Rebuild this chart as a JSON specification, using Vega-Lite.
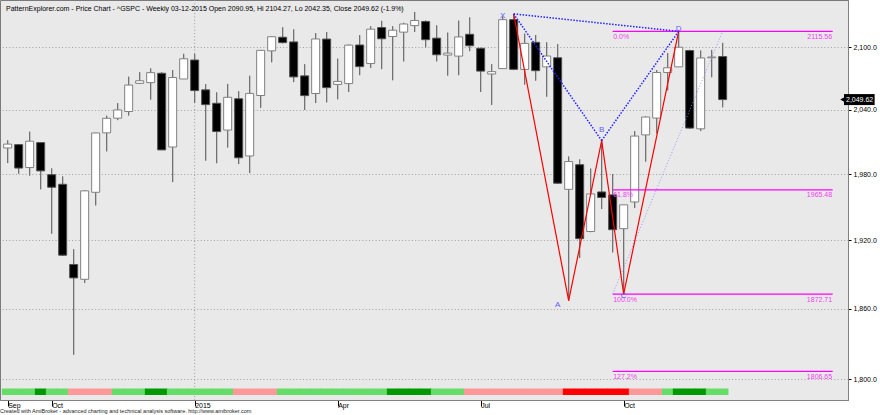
{
"$schema":"https://vega.github.io/schema/vega-lite/v6.json",
"width":848,"height":400,
"autosize":{"type":"none"},
"padding":{"left":0,"top":0,"right":32,"bottom":15},
"background":"#ffffff",
"config":{"font":"Liberation Sans","view":{"fill":"#e9e9e9","stroke":"#7a7a7a","strokeWidth":1}},
"title":{"text":"Created with AmiBroker - advanced charting and technical analysis software. http://www.amibroker.com","orient":"bottom","anchor":"start","frame":"group","fontSize":5.5,"fontWeight":"normal","color":"#222222","offset":0},
"datasets":{
"weekly":[
{"date":"2014-09-05","open":2004.1,"high":2011.2,"low":1990.1,"close":2007.7,"trend":"up"},
{"date":"2014-09-12","open":2007.2,"high":2007.5,"low":1980.3,"close":1985.5,"trend":"up"},
{"date":"2014-09-19","open":1986.0,"high":2019.3,"low":1978.5,"close":2010.4,"trend":"up"},
{"date":"2014-09-26","open":2009.1,"high":2009.1,"low":1966.0,"close":1982.9,"trend":"strong up"},
{"date":"2014-10-03","open":1979.4,"high":1985.2,"low":1926.0,"close":1967.9,"trend":"up"},
{"date":"2014-10-10","open":1970.6,"high":1977.8,"low":1906.1,"close":1906.8,"trend":"up"},
{"date":"2014-10-17","open":1898.6,"high":1912.1,"low":1820.7,"close":1886.8,"trend":"down"},
{"date":"2014-10-24","open":1885.6,"high":1965.3,"low":1882.4,"close":1964.6,"trend":"down"},
{"date":"2014-10-31","open":1963.3,"high":2018.2,"low":1951.4,"close":2018.1,"trend":"down"},
{"date":"2014-11-07","open":2018.2,"high":2034.3,"low":2001.0,"close":2031.9,"trend":"down"},
{"date":"2014-11-14","open":2032.0,"high":2046.2,"low":2030.2,"close":2039.8,"trend":"up"},
{"date":"2014-11-21","open":2038.3,"high":2071.5,"low":2034.5,"close":2063.5,"trend":"up"},
{"date":"2014-11-28","open":2065.1,"high":2075.8,"low":2064.8,"close":2067.6,"trend":"up"},
{"date":"2014-12-05","open":2065.8,"high":2079.5,"low":2049.6,"close":2075.4,"trend":"strong up"},
{"date":"2014-12-12","open":2074.8,"high":2075.8,"low":2002.3,"close":2002.3,"trend":"strong up"},
{"date":"2014-12-19","open":2005.0,"high":2077.9,"low":1972.6,"close":2070.7,"trend":"up"},
{"date":"2014-12-26","open":2069.3,"high":2093.6,"low":2069.3,"close":2088.8,"trend":"up"},
{"date":"2015-01-02","open":2087.6,"high":2093.6,"low":2046.5,"close":2058.2,"trend":"up"},
{"date":"2015-01-09","open":2058.9,"high":2064.4,"low":1992.4,"close":2044.8,"trend":"up"},
{"date":"2015-01-16","open":2046.1,"high":2056.5,"low":1990.0,"close":2019.4,"trend":"up"},
{"date":"2015-01-23","open":2020.8,"high":2064.6,"low":2004.5,"close":2051.8,"trend":"up"},
{"date":"2015-01-30","open":2050.4,"high":2057.6,"low":1989.2,"close":1995.0,"trend":"down"},
{"date":"2015-02-06","open":1996.7,"high":2072.4,"low":1980.9,"close":2055.5,"trend":"down"},
{"date":"2015-02-13","open":2053.5,"high":2097.0,"low":2041.9,"close":2097.0,"trend":"down"},
{"date":"2015-02-20","open":2096.5,"high":2110.6,"low":2085.4,"close":2110.3,"trend":"down"},
{"date":"2015-02-27","open":2109.8,"high":2119.6,"low":2103.8,"close":2104.5,"trend":"up"},
{"date":"2015-03-06","open":2105.2,"high":2117.5,"low":2066.3,"close":2071.3,"trend":"up"},
{"date":"2015-03-13","open":2072.3,"high":2083.5,"low":2039.7,"close":2053.4,"trend":"up"},
{"date":"2015-03-20","open":2055.4,"high":2113.9,"low":2046.3,"close":2108.1,"trend":"up"},
{"date":"2015-03-27","open":2108.0,"high":2114.9,"low":2047.0,"close":2061.0,"trend":"up"},
{"date":"2015-04-03","open":2064.1,"high":2088.9,"low":2049.9,"close":2067.0,"trend":"up"},
{"date":"2015-04-10","open":2064.9,"high":2102.6,"low":2056.8,"close":2102.1,"trend":"up"},
{"date":"2015-04-17","open":2102.2,"high":2111.9,"low":2073.0,"close":2081.2,"trend":"up"},
{"date":"2015-04-24","open":2084.2,"high":2120.5,"low":2080.0,"close":2117.7,"trend":"up"},
{"date":"2015-05-01","open":2119.3,"high":2125.9,"low":2078.8,"close":2108.3,"trend":"up"},
{"date":"2015-05-08","open":2110.5,"high":2120.6,"low":2068.1,"close":2116.7,"trend":"strong up"},
{"date":"2015-05-15","open":2114.8,"high":2123.9,"low":2086.3,"close":2122.8,"trend":"strong up"},
{"date":"2015-05-22","open":2121.2,"high":2134.7,"low":2115.0,"close":2126.3,"trend":"strong up"},
{"date":"2015-05-29","open":2125.3,"high":2126.2,"low":2100.0,"close":2107.4,"trend":"strong up"},
{"date":"2015-06-05","open":2108.9,"high":2121.5,"low":2086.3,"close":2092.7,"trend":"up"},
{"date":"2015-06-12","open":2092.4,"high":2114.3,"low":2072.6,"close":2094.3,"trend":"up"},
{"date":"2015-06-19","open":2091.4,"high":2126.1,"low":2073.0,"close":2110.1,"trend":"up"},
{"date":"2015-06-26","open":2112.7,"high":2129.3,"low":2096.2,"close":2101.5,"trend":"down"},
{"date":"2015-07-03","open":2099.0,"high":2099.5,"low":2056.8,"close":2076.9,"trend":"down"},
{"date":"2015-07-10","open":2074.1,"high":2083.7,"low":2044.6,"close":2076.4,"trend":"down"},
{"date":"2015-07-17","open":2079.3,"high":2130.2,"low":2079.3,"close":2127.1,"trend":"down"},
{"date":"2015-07-24","open":2127.1,"high":2132.8,"low":2077.9,"close":2078.6,"trend":"down"},
{"date":"2015-07-31","open":2078.5,"high":2113.3,"low":2063.9,"close":2103.8,"trend":"down"},
{"date":"2015-08-07","open":2104.8,"high":2112.0,"low":2067.7,"close":2077.3,"trend":"down"},
{"date":"2015-08-14","open":2081.0,"high":2104.8,"low":2052.4,"close":2091.5,"trend":"down"},
{"date":"2015-08-21","open":2089.8,"high":2103.0,"low":1970.9,"close":1971.6,"trend":"down"},
{"date":"2015-08-28","open":1966.0,"high":1996.2,"low":1867.0,"close":1991.5,"trend":"strong down"},
{"date":"2015-09-04","open":1988.6,"high":1993.5,"low":1904.3,"close":1921.5,"trend":"strong down"},
{"date":"2015-09-11","open":1927.9,"high":1985.0,"low":1927.3,"close":1961.8,"trend":"strong down"},
{"date":"2015-09-18","open":1963.6,"high":2011.0,"low":1948.1,"close":1958.6,"trend":"strong down"},
{"date":"2015-09-25","open":1960.9,"high":1980.0,"low":1909.3,"close":1929.5,"trend":"strong down"},
{"date":"2015-10-02","open":1930.4,"high":1951.9,"low":1872.7,"close":1951.9,"trend":"strong down"},
{"date":"2015-10-09","open":1954.5,"high":2019.9,"low":1949.0,"close":2015.2,"trend":"down"},
{"date":"2015-10-16","open":2016.3,"high":2033.6,"low":1991.5,"close":2033.1,"trend":"down"},
{"date":"2015-10-23","open":2032.1,"high":2077.9,"low":2017.7,"close":2075.5,"trend":"down"},
{"date":"2015-10-30","open":2075.5,"high":2094.3,"low":2058.4,"close":2080.1,"trend":"up"},
{"date":"2015-11-06","open":2081.0,"high":2115.56,"low":2080.8,"close":2100.0,"trend":"strong up"},
{"date":"2015-11-13","open":2096.8,"high":2097.5,"low":2022.0,"close":2022.7,"trend":"strong up"},
{"date":"2015-11-20","open":2022.0,"high":2096.8,"low":2019.9,"close":2089.6,"trend":"strong up"},
{"date":"2015-11-27","open":2089.8,"high":2097.4,"low":2071.0,"close":2090.5,"trend":"up"},
{"date":"2015-12-04","open":2090.95,"high":2104.27,"low":2042.35,"close":2049.62,"trend":"up"}
],
"fib":[
{"level":"0.0%","price":2115.56,"start":"2015-09-25","end":"2016-02-12"},
{"level":"61.8%","price":1965.48,"start":"2015-09-25","end":"2016-02-12"},
{"level":"100.0%","price":1872.71,"start":"2015-09-25","end":"2016-02-12"},
{"level":"127.2%","price":1806.65,"start":"2015-09-25","end":"2016-02-12"}
],
"pivots":[
{"point":"X","seq":1,"date":"2015-07-24","price":2132.8},
{"point":"A","seq":2,"date":"2015-08-28","price":1867.0},
{"point":"B","seq":3,"date":"2015-09-18","price":2011.0},
{"point":"C","seq":4,"date":"2015-10-02","price":1872.71},
{"point":"D","seq":5,"date":"2015-11-06","price":2115.56}
],
"legs":[
{"from":"X","to":"B","d1":"2015-07-24","p1":2132.8,"d2":"2015-09-18","p2":2011.0},
{"from":"B","to":"D","d1":"2015-09-18","p1":2011.0,"d2":"2015-11-06","p2":2115.56},
{"from":"X","to":"D","d1":"2015-07-24","p1":2132.8,"d2":"2015-11-06","p2":2115.56}
],
"pivotLabels":[
{"text":"X","date":"2015-07-17","price":2131.0},
{"text":"A","date":"2015-08-21","price":1863.5},
{"text":"B","date":"2015-09-18","price":2021.3},
{"text":"C","date":"2015-10-02","price":1870.8},
{"text":"D","date":"2015-11-06","price":2117.5}
]
},
"layer":[
{"data":{"name":"weekly"},"mark":{"type":"rule","color":"#707070","strokeWidth":1},
 "encoding":{"x":{"field":"date","type":"temporal","scale":{"type":"utc","domain":[{"year":2014,"month":9,"date":3,"hours":7,"minutes":15,"utc":true},{"year":2016,"month":2,"date":18,"hours":14,"utc":true}]},
   "axis":{"values":[{"year":2014,"month":9,"date":5,"utc":true},{"year":2014,"month":10,"date":3,"utc":true},{"year":2015,"month":1,"date":2,"utc":true},{"year":2015,"month":4,"date":3,"utc":true},{"year":2015,"month":7,"date":3,"utc":true},{"year":2015,"month":10,"date":2,"utc":true}],
   "labelExpr":"utcmonth(datum.value) == 0 ? utcFormat(datum.value, '%Y') : utcFormat(datum.value, '%b')",
   "title":null,"grid":false,"tickSize":6,"tickColor":"#000000","domainColor":"#808080","labelAlign":"left","labelBaseline":"top","labelPadding":-4.5,"labelFontSize":7,"labelColor":"#000000","labelDx":1,"labelFlush":false,"labelOverlap":false,"labelBound":false}},
  "y":{"field":"low","type":"quantitative","scale":{"type":"log","domain":[1787,2141.6],"nice":false,"zero":false},
   "axis":{"orient":"right","values":[1800,1860,1920,1980,2040,2100],"format":",.1f","title":null,"grid":true,"gridColor":"#a0a0a0","gridDash":[1,2.3],"tickColor":"#000000","tickSize":3,"domainColor":"#808080","labelFontSize":7,"labelPadding":2,"labelColor":"#000000"}},
  "y2":{"field":"high"}}},
{"data":{"values":[{}]},"mark":{"type":"rule","color":"#9a9a9a","strokeDash":[1,2.3],"strokeWidth":1},
 "encoding":{"x":{"datum":{"year":2015,"month":1,"date":2,"utc":true},"type":"temporal"}}},
{"data":{"name":"weekly"},"mark":{"type":"bar","size":11.6,"clip":true},
 "encoding":{"x":{"field":"date","type":"temporal"},
  "y":{"datum":1792.4,"type":"quantitative"},
  "y2":{"datum":1787},
  "color":{"field":"trend","type":"nominal","scale":{"domain":["up","strong up","down","strong down"],"range":["#66dd66","#009900","#ff9999","#ff0000"]},"legend":null}}},
{"data":{"name":"weekly"},"mark":{"type":"rule","color":"#707070","strokeWidth":1},
 "encoding":{"x":{"field":"date","type":"temporal"},
  "y":{"field":"low","type":"quantitative"},
  "y2":{"field":"high"}}},
{"data":{"name":"weekly"},"mark":{"type":"bar","size":8,"clip":true,"strokeWidth":1},
 "encoding":{"x":{"field":"date","type":"temporal"},
  "y":{"field":"open","type":"quantitative"},
  "y2":{"field":"close"},
  "fill":{"condition":{"test":"datum.close >= datum.open","value":"#ffffff"},"value":"#000000"},
  "stroke":{"condition":{"test":"datum.close >= datum.open","value":"#808080"},"value":"#505050"}}},
{"data":{"name":"fib"},"mark":{"type":"rule","color":"#ff00ff","strokeWidth":1.2},
 "encoding":{"x":{"field":"start","type":"temporal"},
  "x2":{"field":"end"},
  "y":{"field":"price","type":"quantitative"}}},
{"data":{"name":"fib"},"mark":{"type":"text","color":"#f040f0","fontSize":7,"align":"left","baseline":"top","dy":1.5,"dx":0.5},
 "encoding":{"x":{"field":"start","type":"temporal"},
  "y":{"field":"price","type":"quantitative"},
  "text":{"field":"level"}}},
{"data":{"name":"fib"},"mark":{"type":"text","color":"#f040f0","fontSize":7,"align":"right","baseline":"top","dy":1.5,"dx":-0.5},
 "encoding":{"x":{"field":"end","type":"temporal"},
  "y":{"field":"price","type":"quantitative"},
  "text":{"field":"price","type":"quantitative","format":".2f"}}},
{"data":{"values":[{"d1":"2015-09-25","p1":1872.71,"d2":"2015-12-04","p2":2115.56}]},"mark":{"type":"rule","color":"#8c8cff","strokeDash":[1,2],"strokeWidth":0.9},
 "encoding":{"x":{"field":"d1","type":"temporal"},
  "x2":{"field":"d2"},
  "y":{"field":"p1","type":"quantitative"},
  "y2":{"field":"p2"}}},
{"data":{"name":"pivots"},"mark":{"type":"line","color":"#ff0000","strokeWidth":1.2},
 "encoding":{"x":{"field":"date","type":"temporal"},
  "y":{"field":"price","type":"quantitative"},
  "order":{"field":"seq","type":"quantitative"}}},
{"data":{"name":"legs"},"mark":{"type":"rule","color":"#2222ff","strokeDash":[1.5,1.5],"strokeWidth":1.5},
 "encoding":{"x":{"field":"d1","type":"temporal"},
  "x2":{"field":"d2"},
  "y":{"field":"p1","type":"quantitative"},
  "y2":{"field":"p2"}}},
{"data":{"name":"pivotLabels"},"mark":{"type":"text","color":"#5a5aff","fontSize":8,"align":"center","baseline":"middle"},
 "encoding":{"x":{"field":"date","type":"temporal"},
  "y":{"field":"price","type":"quantitative"},
  "text":{"field":"text"}}},
{"data":{"values":[{}]},"mark":{"type":"text","color":"#000000","fontSize":7,"align":"left","baseline":"middle","dx":1,"text":"PatternExplorer.com - Price Chart - ^GSPC - Weekly 03-12-2015 Open 2090.95, Hi 2104.27, Lo 2042.35, Close 2049.62 (-1.9%)"},
 "encoding":{"x":{"datum":{"year":2014,"month":9,"date":3,"hours":7,"minutes":15,"utc":true},"type":"temporal"},
  "y":{"datum":2137.2,"type":"quantitative"}}},
{"data":{"values":[{"close":2049.62}]},"mark":{"type":"point","shape":"triangle-left","filled":true,"color":"#000000","size":40,"opacity":1},
 "encoding":{"x":{"datum":{"year":2016,"month":2,"date":18,"hours":14,"utc":true},"type":"temporal"},
  "y":{"field":"close","type":"quantitative"}}},
{"data":{"values":[{"close":2049.62}]},"mark":{"type":"bar","size":11,"color":"#000000"},
 "encoding":{"x":{"datum":{"year":2016,"month":2,"date":19,"hours":5,"utc":true},"type":"temporal"},
  "x2":{"datum":{"year":2016,"month":3,"date":9,"hours":17,"utc":true}},
  "y":{"field":"close","type":"quantitative"}}},
{"data":{"values":[{"close":2049.62}]},"mark":{"type":"text","color":"#ffffff","fontSize":7,"align":"left","baseline":"middle","dx":2},
 "encoding":{"x":{"datum":{"year":2016,"month":2,"date":19,"hours":5,"utc":true},"type":"temporal"},
  "y":{"field":"close","type":"quantitative"},
  "text":{"field":"close","type":"quantitative","format":",.2f"}}}
]
}
